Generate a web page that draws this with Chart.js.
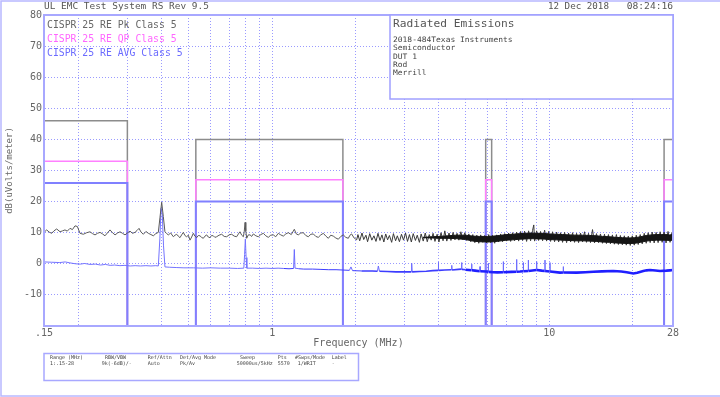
<!DOCTYPE html>
<html lang="en">
<head>
<meta charset="UTF-8">
<title>Radiated Emissions</title>
<script src="https://cdn.jsdelivr.net/npm/chart.js"></script>
<style>
  body { margin: 0; background: #fff; }
  canvas { display: block; }
</style>
</head>
<body>
<canvas id="emc" width="720" height="397"></canvas>
<script>
// CISPR 25 class 5 limit bands (MHz) and levels (dBuV/m)
const bandStart = [0.15, 0.53, 5.9, 26];
const bandEnd = [0.3, 1.8, 6.2, 28];
const pkLimit = [46, 40, 40, 40];
const qpLimit = [33, 27, 27, 27];
const avLimit = [26, 20, 20, 20];

// peak detector trace
const pkFreq = [
  0.150, 0.1534, 0.1565, 0.1599, 0.163, 0.1667, 0.1714, 0.175, 0.1786, 0.182,
  0.1862, 0.190, 0.1941, 0.1979, 0.2024, 0.208, 0.214, 0.2199, 0.2245, 0.2293,
  0.234, 0.239, 0.244, 0.2491, 0.254, 0.2597, 0.265, 0.2708, 0.2765, 0.2823,
  0.288, 0.2942, 0.300, 0.3067, 0.313, 0.3197, 0.325, 0.3305, 0.336, 0.3426,
  0.350, 0.3572, 0.365, 0.3722, 0.380, 0.388, 0.3935, 0.399, 0.4045, 0.410,
  0.416, 0.4217, 0.430, 0.4396, 0.446, 0.452, 0.458, 0.4645, 0.471, 0.4777,
  0.484, 0.491, 0.498, 0.505, 0.512, 0.519, 0.526, 0.5337, 0.541, 0.5487,
  0.556, 0.564, 0.572, 0.580, 0.588, 0.596, 0.604, 0.613, 0.621, 0.630,
  0.643, 0.657, 0.671, 0.685, 0.699, 0.714, 0.729, 0.744, 0.755, 0.765,
  0.776, 0.787, 0.793, 0.798, 0.803, 0.809, 0.820, 0.832, 0.843, 0.855,
  0.873, 0.891, 0.910, 0.929, 0.948, 0.968, 0.988, 1.009, 1.030, 1.052,
  1.074, 1.097, 1.120, 1.143, 1.172, 1.202, 1.222, 1.242, 1.268, 1.295,
  1.322, 1.350, 1.379, 1.408, 1.437, 1.467, 1.498, 1.530, 1.562, 1.595,
  1.628, 1.662, 1.697, 1.733, 1.769, 1.806, 1.844, 1.883, 1.909, 1.935,
  1.976, 2.018,
  2.04, 2.07, 2.11, 2.14, 2.18, 2.21, 2.25, 2.29, 2.33, 2.37,
  2.41, 2.45, 2.49, 2.53, 2.57, 2.61, 2.65, 2.70, 2.74, 2.79,
  2.83, 2.88, 2.93, 2.98, 3.03, 3.08, 3.13, 3.18, 3.23, 3.29,
  3.34, 3.40, 3.45, 3.51, 3.57, 3.63, 3.69, 3.75, 3.81, 3.87,
  3.94, 4.00, 4.07, 4.14, 4.20, 4.27, 4.35, 4.42, 4.50, 4.57,
  4.65, 4.72, 4.80, 4.88, 4.96, 5.04, 5.13, 5.21, 5.30, 5.39,
  5.48, 5.57, 5.66, 5.76, 5.85, 5.95, 6.05, 6.15, 6.25, 6.36,
  6.46, 6.57, 6.68, 6.79, 6.91, 7.02, 7.14, 7.26, 7.38, 7.50,
  7.63, 7.76, 7.89, 8.02, 8.15, 8.29, 8.43, 8.57, 8.71, 8.80,
  8.86, 9.01, 9.16, 9.31, 9.47, 9.63, 9.79, 9.95, 10.12, 10.29,
  10.46, 10.64, 10.82, 11.00, 11.18, 11.37, 11.56, 11.75, 11.95, 12.15,
  12.35, 12.56, 12.77, 12.98, 13.20, 13.42, 13.64, 13.87, 14.10, 14.34,
  14.58, 14.82, 15.07, 15.32, 15.58, 15.84, 16.10, 16.37, 16.64, 16.92,
  17.20, 17.49, 17.78, 18.08, 18.38, 18.68, 18.99, 19.31, 19.63, 19.96,
  20.29, 20.63, 20.97, 21.32, 21.68, 22.04, 22.41, 22.78, 23.16, 23.55,
  23.94, 24.34, 24.74, 25.16, 25.58, 26.00, 26.43, 26.87, 27.32, 27.77,
  28.00
];
const pkLevel = [
  10.1, 10.9, 10.2, 9.8, 10.6, 11.2, 10.3, 10.6, 10.9, 10.5,
  11.4, 11.0, 12.2, 12.0, 9.8, 9.5, 10.0, 10.3, 9.7, 9.3,
  9.8, 10.1, 9.6, 9.0, 9.9, 10.9, 10.0, 9.3, 9.9, 10.3,
  9.8, 9.3, 9.9, 10.5, 9.8, 10.1, 10.7, 11.4, 10.2, 9.5,
  10.4, 9.8, 9.4, 9.0, 9.7, 10.1, 15.0, 19.8, 15.2, 10.3,
  9.7, 9.3, 9.9, 8.7, 9.2, 9.5, 8.9, 8.4, 9.3, 10.1,
  9.1, 8.7, 9.2, 7.6, 8.6, 9.8, 8.9, 8.4, 9.1, 9.0,
  8.5, 8.2, 8.9, 9.3, 8.6, 8.4, 9.1, 9.0, 8.5, 8.7,
  9.2, 9.5, 8.8, 8.7, 9.3, 9.5, 8.9, 8.7, 9.6, 10.3,
  9.2, 8.7, 10.5, 13.3, 10.6, 8.2, 9.3, 9.3, 8.8, 9.6,
  9.0, 8.7, 9.4, 9.8, 9.0, 8.5, 9.2, 9.3, 8.7, 9.8,
  9.3, 8.9, 9.6, 10.0, 9.4, 11.1, 9.6, 9.3, 9.9, 10.0,
  9.1, 8.7, 9.5, 9.6, 8.8, 8.5, 9.3, 9.8, 8.9, 8.2,
  9.2, 8.9, 8.3, 7.9, 8.8, 9.3, 8.5, 8.2, 9.2, 9.6,
  8.3, 7.7,
  9.4, 7.4, 9.9, 7.8, 9.2, 7.1, 9.7, 7.6, 9.0, 7.2,
  9.8, 7.5, 9.3, 7.0, 9.6, 7.7, 9.1, 6.9, 9.7, 7.4,
  9.0, 7.1, 9.5, 7.6, 9.9, 7.2, 9.4, 7.0, 9.7, 7.5,
  9.2, 6.9, 9.6, 7.3, 9.9, 7.1, 9.4, 7.6, 9.8, 7.2,
  9.5, 7.0, 10.0, 7.4, 10.6, 7.3, 9.9, 7.5, 10.1, 7.7,
  9.8, 7.6, 10.3, 7.8, 10.0, 7.5, 9.6, 7.1, 9.4, 6.8,
  9.2, 6.6, 9.3, 6.9, 9.1, 6.7, 9.4, 6.8, 9.2, 6.6,
  9.3, 7.0, 9.6, 7.1, 9.7, 7.3, 9.9, 7.2, 10.0, 7.4,
  10.2, 7.3, 10.4, 7.5, 10.5, 7.2, 10.6, 7.4, 10.7, 12.5,
  7.3, 10.6, 7.5, 10.4, 7.4, 10.8, 7.3, 10.4, 7.2, 10.3,
  7.1, 10.2, 7.0, 10.0, 6.9, 10.1, 6.8, 9.9, 7.0, 10.0,
  6.9, 9.8, 6.8, 9.9, 7.0, 10.3, 6.9, 9.8, 6.8, 11.0,
  6.7, 9.7, 6.8, 9.6, 6.6, 9.5, 6.5, 9.4, 6.4, 9.3,
  6.3, 9.4, 6.2, 9.1, 6.1, 9.0, 6.0, 8.9, 5.9, 9.0,
  6.0, 9.2, 6.2, 9.4, 6.4, 9.8, 6.6, 10.0, 6.8, 10.2,
  6.7, 10.1, 6.8, 10.3, 6.9, 10.2, 6.7, 10.4, 6.9, 10.1,
  8.5
];

// dense core of the peak trace above 3.5 MHz (upper and lower edge)
const coreFreq = [
  3.5, 3.8, 4.0, 4.3, 4.6, 5.0, 5.3, 5.6, 6.0, 6.3,
  6.6, 7.0, 7.4, 7.8, 8.2, 8.6, 9.0, 9.5, 10.0, 10.6,
  11.2, 11.8, 12.5, 13.2, 14.0, 14.8, 15.6, 16.5, 17.4, 18.4,
  19.4, 20.4, 21.4, 22.4, 23.4, 24.4, 25.4, 26.4, 27.2, 28.0
];
const coreHigh = [
  8.5, 8.7, 8.8, 9.0, 9.2, 9.2, 8.9, 8.8, 8.8, 8.9,
  9.1, 9.4, 9.5, 9.7, 9.8, 9.9, 9.8, 9.8, 9.6, 9.5,
  9.4, 9.3, 9.2, 9.2, 9.1, 9.0, 8.8, 8.7, 8.5, 8.4,
  8.3, 8.4, 8.7, 9.1, 9.3, 9.4, 9.4, 9.4, 9.3, 9.4
];
const coreLow = [
  8.4, 8.3, 8.2, 8.2, 8.1, 7.8, 7.3, 7.1, 7.0, 7.1,
  7.3, 7.6, 7.7, 7.9, 8.0, 8.1, 8.0, 8.0, 7.8, 7.7,
  7.6, 7.5, 7.4, 7.4, 7.3, 7.2, 7.0, 6.9, 6.7, 6.6,
  6.5, 6.6, 6.9, 7.3, 7.5, 7.6, 7.6, 7.6, 7.5, 7.6
];

// average detector trace
const avFreq = [
  0.150, 0.160, 0.171, 0.179, 0.186, 0.195, 0.203, 0.210, 0.220, 0.230,
  0.240, 0.250, 0.260, 0.270, 0.282, 0.294, 0.307, 0.320, 0.334, 0.350,
  0.365, 0.380, 0.388, 0.393, 0.397, 0.401, 0.405, 0.410, 0.425, 0.450,
  0.480, 0.520, 0.560, 0.600, 0.650, 0.700, 0.750, 0.790, 0.795, 0.800,
  0.805, 0.810, 0.850, 0.900, 0.950, 1.000, 1.050, 1.100, 1.150, 1.195,
  1.202, 1.209, 1.250, 1.300, 1.400, 1.500, 1.600, 1.700, 1.800, 1.900,
  1.925, 1.950, 2.100, 2.300, 2.400, 2.417, 2.440, 2.600, 2.800, 3.000,
  3.180, 3.189, 3.200, 3.400, 3.600, 3.800, 3.970, 3.980, 3.990, 4.200,
  4.440, 4.450, 4.460, 4.700, 4.820, 4.830, 4.840, 5.000, 5.240, 5.250,
  5.260, 5.400, 5.620, 5.630, 5.640, 5.950, 6.020, 6.030, 6.040, 6.290,
  6.500, 6.820, 6.830, 6.840, 7.300, 7.620, 7.630, 7.640, 7.850, 8.060,
  8.070, 8.080, 8.400, 8.410, 8.420, 9.000, 9.010, 9.020, 9.400, 9.650,
  9.660, 9.670, 10.060, 10.070, 10.080, 10.940, 11.240, 11.250, 11.260, 12.570,
  13.50, 14.44, 15.50, 17.04, 18.20, 19.05, 20.13, 20.80, 21.87, 22.50,
  23.13, 24.20, 25.13, 26.50, 27.30, 28.00
];
const avLevel = [
  0.6, 0.5, 0.4, 0.6, 0.3, 0.0, -0.1, 0.1, -0.2, -0.1,
  -0.4, -0.2, -0.5, -0.4, -0.6, -0.5, -0.7, -0.6, -0.7, -0.6,
  -0.7, -0.6, -0.7, 8.0, 17.8, 16.0, 6.0, -1.0, -1.1, -1.2,
  -1.3, -1.3, -1.4, -1.3, -1.4, -1.4, -1.5, -1.4, 3.0, 8.0,
  2.0, -1.4, -1.4, -1.5, -1.4, -1.5, -1.4, -1.5, -1.6, -1.5,
  4.6, -1.4, -1.6, -1.7, -1.7, -1.8, -1.9, -1.9, -2.0, -2.1,
  -1.0, -2.2, -2.3, -2.3, -2.4, -0.7, -2.4, -2.5, -2.6, -2.6,
  -2.6, 0.2, -2.6, -2.5, -2.4, -2.2, -2.1, 0.5, -2.1, -2.0,
  -1.9, -0.5, -2.0, -1.8, -1.7, 0.4, -1.8, -1.9, -2.1, -0.1,
  -2.1, -2.2, -2.4, -0.9, -2.4, -2.5, -2.6, 0.2, -2.6, -2.7,
  -2.75, -2.7, 0.7, -2.7, -2.6, -2.55, 1.4, -2.55, -2.5, -2.4,
  0.4, -2.4, -2.3, 1.2, -2.3, -2.0, 0.7, -2.0, -2.2, -2.3,
  1.2, -2.3, -2.5, 0.4, -2.5, -2.85, -2.8, -0.9, -2.8, -2.85,
  -2.7, -2.55, -2.45, -2.3, -2.5, -2.7, -3.1, -2.9, -2.3, -2.1,
  -2.0, -2.15, -2.3, -2.2, -2.1, -2.0
];

// axis ticks
const yMin = -20;
const yMax = 80;
const xGridValues = [0.15, 0.2, 0.3, 0.4, 0.5, 0.6, 0.7, 0.8, 0.9, 1, 2, 3, 4, 5, 6, 7, 8, 9, 10, 20, 28];
const xTickValues = [0.15, 1, 10, 28];
const xTickLabels = ['.15', '1', '10', '28'];

const MONO = '"DejaVu Sans Mono", monospace';

function toPoints(xs, ys) {
  return xs.map((x, i) => ({ x: x, y: ys[i] }));
}

// limit line: up at each band edge, back down to the floor after it
function limitSteps(levels) {
  const pts = [];
  bandStart.forEach((s, i) => {
    pts.push({ x: s, y: yMin }, { x: s, y: levels[i] }, { x: bandEnd[i], y: levels[i] }, { x: bandEnd[i], y: yMin });
  });
  return pts;
}

function text(ctx, s, x, y, size, color, align, sx) {
  ctx.save();
  ctx.font = size + 'px ' + MONO;
  ctx.fillStyle = color;
  ctx.textAlign = align || 'left';
  ctx.textBaseline = 'middle';
  ctx.translate(x, y);
  ctx.scale(sx || 1, 1);
  ctx.fillText(s, 0, 0);
  ctx.restore();
}

const decorations = {
  id: 'decorations',
  afterDraw(chart) {
    const ctx = chart.ctx;
    const a = chart.chartArea;
    ctx.save();

    // outer page frame
    ctx.strokeStyle = '#b8b8ff';
    ctx.lineWidth = 1.5;
    ctx.strokeRect(1, 1, 760, 395);

    // plot frame
    ctx.strokeStyle = '#a8a8ff';
    ctx.lineWidth = 2;
    ctx.strokeRect(a.left, a.top, a.right - a.left, a.bottom - a.top);

    // info box
    ctx.fillStyle = '#fff';
    ctx.fillRect(390, a.top, a.right - 390, 84);
    ctx.strokeStyle = '#a0a0ff';
    ctx.lineWidth = 1.5;
    ctx.strokeRect(390, a.top, a.right - 390, 84);
    text(ctx, 'Radiated Emissions', 393, 24, 10, '#555', 'left', 1.12);
    const info = ['2018-484Texas Instruments', 'Semiconductor', 'DUT 1', 'Rod', 'Merrill'];
    const infoY = [40, 48.3, 56.7, 65, 73.5];
    info.forEach((s, i) => text(ctx, s, 393, infoY[i], 7.5, '#444', 'left', 1.06));

    // header
    text(ctx, 'UL EMC Test System RS Rev 9.5', 44, 7, 8, '#555', 'left', 1.18);
    text(ctx, '12 Dec 2018', 548, 7, 8, '#555', 'left', 1.15);
    text(ctx, '08:24:16', 673, 7, 8, '#555', 'right', 1.2);

    // legend
    text(ctx, 'CISPR 25 RE Pk Class 5', 47, 25, 11, '#666', 'left', 0.89);
    text(ctx, 'CISPR 25 RE QP Class 5', 47, 39.5, 11, '#ff66ff', 'left', 0.89);
    text(ctx, 'CISPR 25 RE AVG Class 5', 47, 53.5, 11, '#6b6bff', 'left', 0.89);

    // axis titles
    text(ctx, 'Frequency (MHz)', (a.left + a.right) / 2, 343, 10, '#666', 'center');
    ctx.save();
    ctx.translate(10, (a.top + a.bottom) / 2);
    ctx.rotate(-Math.PI / 2);
    text(ctx, 'dB(uVolts/meter)', 0, 0, 9, '#666', 'center');
    ctx.restore();

    // settings table
    ctx.strokeStyle = '#a8a8ff';
    ctx.lineWidth = 1.5;
    ctx.strokeRect(a.left, 353.5, 314.5, 27);
    const heads = ['Range (MHz)', 'RBW/VBW', 'Ref/Attn', 'Det/Avg Mode', 'Sweep', 'Pts', '#Swps/Mode', 'Label'];
    const headX = [50, 105, 147.7, 180, 240, 277.7, 295, 331.7];
    const vals = ['1:.15-28', '9k(-6dB)/-', 'Auto', 'Pk/Av', '50000us/5kHz', '5570', '1/WRIT', '-'];
    const valX = [50, 101.7, 147.7, 180, 236.7, 277.7, 297.7, 331.7];
    heads.forEach((s, i) => text(ctx, s, headX[i], 357.5, 5, '#444'));
    vals.forEach((s, i) => text(ctx, s, valX[i], 363.5, 5, '#444'));

    ctx.restore();
  }
};

Chart.defaults.font.family = MONO;

new Chart(document.getElementById('emc'), {
  type: 'line',
  data: {
    datasets: [
      {
        label: 'Peak',
        data: toPoints(pkFreq, pkLevel),
        borderColor: '#333',
        borderWidth: 1,
        order: 0,
        segment: {
          borderColor: c => c.p0.parsed.x < 2 ? '#5a5a5a' : '#3a3a3a'
        }
      },
      {
        label: 'Average',
        data: toPoints(avFreq, avLevel),
        borderColor: '#4444ff',
        borderWidth: 1,
        order: 1,
        segment: {
          borderColor: c => {
            if (c.p0.parsed.x < 1) return '#7373ff';
            if (Math.max(c.p0.parsed.y, c.p1.parsed.y) > -1.5) return '#6a6aff';
            return c.p0.parsed.x < 5 ? '#3c3cff' : '#1f1fff';
          },
          borderWidth: c => {
            if (c.p0.parsed.x < 2 || Math.max(c.p0.parsed.y, c.p1.parsed.y) > -1.5) return 1;
            return c.p0.parsed.x < 5 ? 1.6 : 2.6;
          }
        }
      },
      { label: 'AVG limit', data: limitSteps(avLimit), borderColor: '#8080ff', borderWidth: 2, order: 2 },
      { label: 'QP limit', data: limitSteps(qpLimit), borderColor: '#ff80ff', borderWidth: 1.5, order: 3 },
      { label: 'Pk limit', data: limitSteps(pkLimit), borderColor: '#8c8c8c', borderWidth: 1.5, order: 4 },
      {
        label: 'Peak core top',
        data: toPoints(coreFreq, coreHigh),
        borderColor: '#151515',
        borderWidth: 1,
        fill: false,
        order: -1
      },
      {
        label: 'Peak core bottom',
        data: toPoints(coreFreq, coreLow),
        borderColor: '#151515',
        borderWidth: 1,
        backgroundColor: '#151515',
        fill: '-1',
        order: -1
      }
    ]
  },
  options: {
    responsive: false,
    animation: false,
    events: [],
    layout: { padding: { left: 0, top: 15, right: 47, bottom: 0 } },
    elements: { point: { radius: 0 }, line: { tension: 0 } },
    plugins: { legend: { display: false }, tooltip: { enabled: false } },
    scales: {
      x: {
        type: 'logarithmic',
        min: 0.15,
        max: 28,
        afterBuildTicks: s => { s.ticks = xGridValues.map(v => ({ value: v })); },
        afterFit: s => { s.height = 71; },
        grid: { color: '#9a9aff', lineWidth: 1, drawTicks: false },
        border: { color: '#a8a8ff', width: 2, dash: [1, 2] },
        ticks: {
          autoSkip: false,
          maxRotation: 0,
          minRotation: 0,
          padding: 1,
          color: '#666',
          font: { size: 10 },
          callback: v => {
            const i = xTickValues.indexOf(v);
            return i < 0 ? '' : xTickLabels[i];
          }
        }
      },
      y: {
        min: yMin,
        max: yMax,
        afterFit: s => { s.width = 44; },
        grid: { color: '#9a9aff', lineWidth: 1, drawTicks: false },
        border: { color: '#a8a8ff', width: 2, dash: [1, 2] },
        ticks: {
          stepSize: 10,
          padding: 2,
          color: '#666',
          font: { size: 10 },
          callback: v => (v === yMin ? '' : String(v))
        }
      }
    }
  },
  plugins: [decorations]
});
</script>
</body>
</html>
